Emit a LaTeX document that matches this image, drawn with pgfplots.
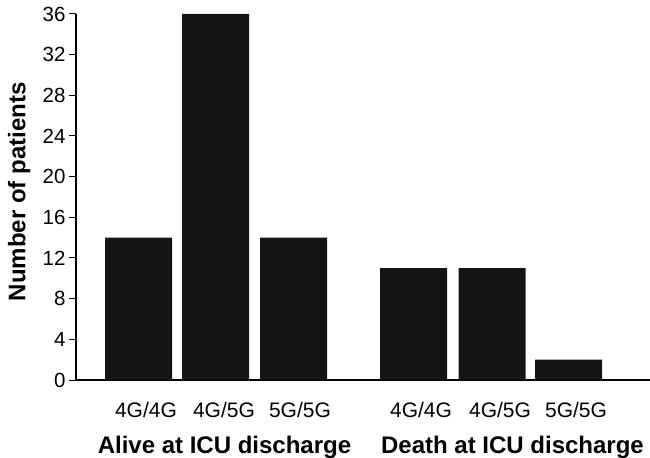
\documentclass[border=0pt]{standalone}
\usepackage{fontspec}
\setmainfont{Liberation Sans}
\usepackage{pgfplots}
\pgfplotsset{compat=1.18}
\definecolor{barcol}{HTML}{141414}
\begin{document}
\begin{tikzpicture}
\useasboundingbox (0,0) rectangle (650bp,458bp);
\begin{axis}[
  at={(76bp,78bp)}, anchor=south west,
  scale only axis, width=574bp, height=366bp,
  xmin=76, xmax=650, ymin=0, ymax=36,
  axis x line=bottom, axis y line=left,
  axis line style={-, line width=1.2bp, black},
  ytick={0,4,...,36},
  /pgf/number format/assume math mode=true,
  tick align=outside,
  major tick length=7bp,
  y tick style={line width=1bp, black},
  x tick style={draw=none},
  xtick={146,224,300,421,500,576},
  xticklabels={4G/4G,4G/5G,5G/5G,4G/4G,4G/5G,5G/5G},
  yticklabel style={font=\fontsize{20.5bp}{24bp}\selectfont},
  xticklabel style={font=\fontsize{21bp}{24bp}\selectfont, yshift=-12bp},
  ylabel={Number of patients},
  ylabel style={font=\fontsize{24bp}{28bp}\selectfont\bfseries, at={(axis description cs:-0.099,0.514)}, anchor=center},
  clip=false,
]
\addplot[ybar, bar width=67, bar shift=0pt, fill=barcol, draw=none] coordinates {
  (138.5,14) (215.5,36) (293.5,14) (413.5,11) (492,11) (568.5,2)
};
\node[font=\fontsize{24bp}{28bp}\selectfont\bfseries, anchor=base] at (axis cs:224.5,0) [yshift=-73bp] {Alive at ICU discharge};
\node[font=\fontsize{24bp}{28bp}\selectfont\bfseries, anchor=base] at (axis cs:512.5,0) [yshift=-73bp] {Death at ICU discharge};
\end{axis}
\end{tikzpicture}
\end{document}
